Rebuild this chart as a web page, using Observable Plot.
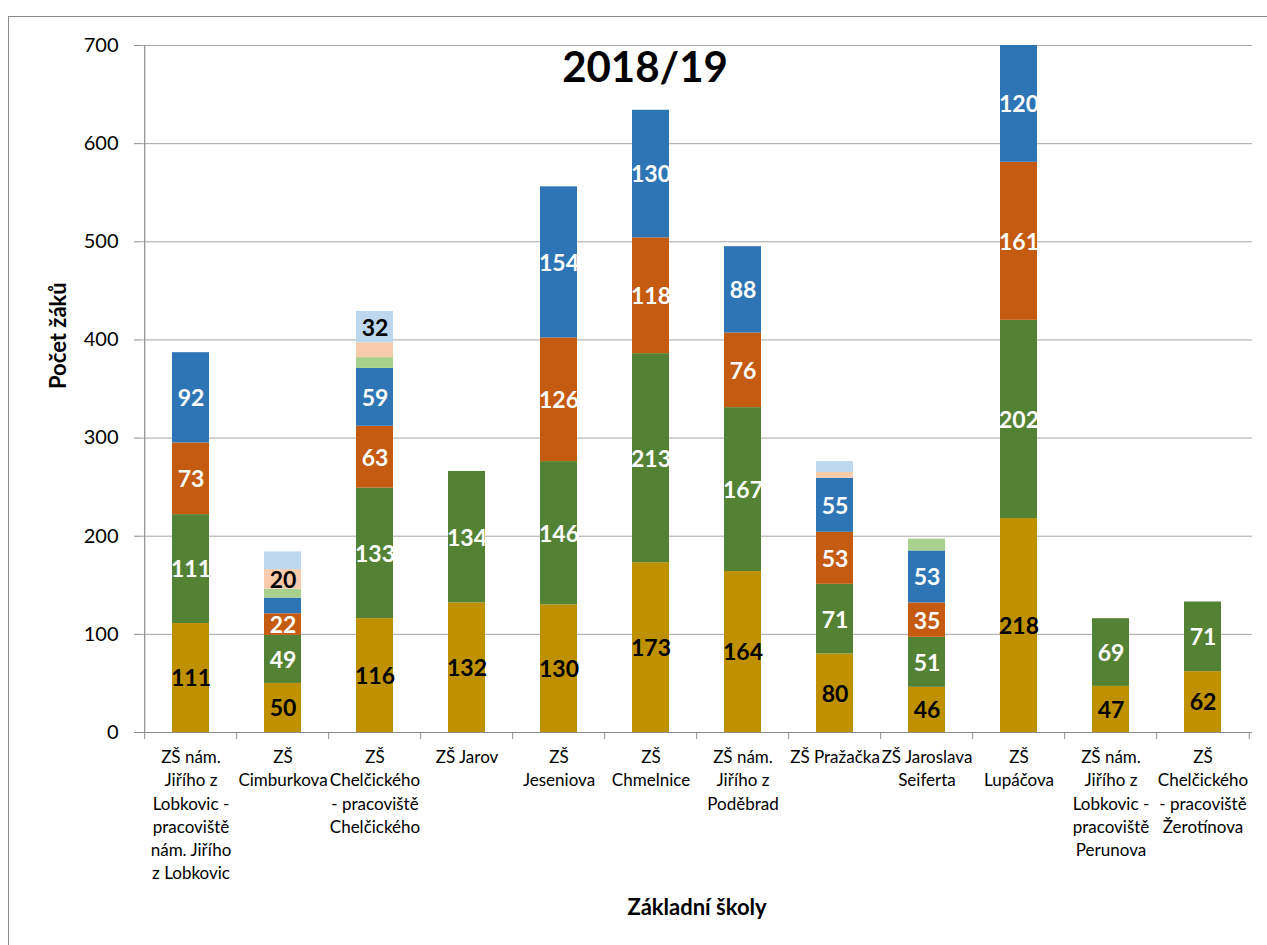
<!DOCTYPE html>
<html>
<head>
<meta charset="utf-8">
<script src="https://cdn.jsdelivr.net/npm/d3@7"></script>
<script src="https://cdn.jsdelivr.net/npm/@observablehq/plot@0.6"></script>
<style>
  html, body { margin: 0; padding: 0; background: #fff; overflow: hidden; }
  #frame { position: absolute; left: 8px; top: 16px; width: 1300px; height: 1000px; border: 1px solid #8c8c8c; box-sizing: border-box; }
  #chart { position: absolute; left: 0; top: 0; }
</style>
</head>
<body>
<div id="frame"></div>
<div id="chart"></div>
<script>
// ---- data ----
const schools = [
  "ZŠ nám. Jiřího z Lobkovic - pracoviště nám. Jiřího z Lobkovic",
  "ZŠ Cimburkova",
  "ZŠ Chelčického - pracoviště Chelčického",
  "ZŠ Jarov",
  "ZŠ Jeseniova",
  "ZŠ Chmelnice",
  "ZŠ nám. Jiřího z Poděbrad",
  "ZŠ Pražačka",
  "ZŠ Jaroslava Seiferta",
  "ZŠ Lupáčova",
  "ZŠ nám. Jiřího z Lobkovic - pracoviště Perunova",
  "ZŠ Chelčického - pracoviště Žerotínova"
];
const tickLabels = [
  "ZŠ nám.\nJiřího z\nLobkovic -\npracoviště\nnám. Jiřího\nz Lobkovic",
  "ZŠ\nCimburkova",
  "ZŠ\nChelčického\n- pracoviště\nChelčického",
  "ZŠ Jarov",
  "ZŠ\nJeseniova",
  "ZŠ\nChmelnice",
  "ZŠ nám.\nJiřího z\nPoděbrad",
  "ZŠ Pražačka",
  "ZŠ Jaroslava\nSeiferta",
  "ZŠ\nLupáčova",
  "ZŠ nám.\nJiřího z\nLobkovic -\npracoviště\nPerunova",
  "ZŠ\nChelčického\n- pracoviště\nŽerotínova"
];
const seriesNames = ["Řada 1", "Řada 2", "Řada 3", "Řada 4", "Řada 5", "Řada 6", "Řada 7"];
const seriesColors = ["#BF9000", "#548235", "#C55A11", "#2E75B6", "#A9D18E", "#F8CBAD", "#BDD7EE"];
const labelColors = ["#000000", "#ffffff", "#ffffff", "#ffffff", "#000000", "#000000", "#000000"];
const s1 = [111, 50, 116, 132, 130, 173, 164, 80, 46, 218, 47, 62];
const s2 = [111, 49, 133, 134, 146, 213, 167, 71, 51, 202, 69, 71];
const s3 = [73, 22, 63, 0, 126, 118, 76, 53, 35, 161, 0, 0];
const s4 = [92, 16, 59, 0, 154, 130, 88, 55, 53, 120, 0, 0];
const s5 = [0, 9, 11, 0, 0, 0, 0, 0, 12, 0, 0, 0];
const s6 = [0, 20, 15, 0, 0, 0, 0, 6, 0, 0, 0, 0];
const s7 = [0, 18, 32, 0, 0, 0, 0, 11, 0, 0, 0, 0];
const yTicks = [0, 100, 200, 300, 400, 500, 600, 700];
const title = "2018/19";
const xTitle = "Základní školy";
const yTitle = "Počet žáků";
const labelMin = 20;

const seriesValues = [s1, s2, s3, s4, s5, s6, s7];
const rows = [];
seriesValues.forEach((vals, si) => {
  vals.forEach((v, i) => {
    if (v > 0) rows.push({school: schools[i], series: seriesNames[si], value: v, si});
  });
});

const W = 1267, H = 945, ML = 141, MR = 15, MT = 45, MB = 213;
const step = (W - ML - MR) / schools.length;
const font = "Lato, 'Open Sans', sans-serif";
const grid = "#a6a6a6";
const axisCol = "#8c8c8c";

const chart = Plot.plot({
  width: W,
  height: H,
  marginLeft: ML,
  marginRight: MR,
  marginTop: MT,
  marginBottom: MB,
  style: {fontFamily: font, background: "transparent", color: "#000", overflow: "visible"},
  x: {type: "band", domain: schools, paddingInner: 0.6, paddingOuter: 0.3, label: null},
  y: {domain: [0, 700], label: null},
  color: {domain: seriesNames, range: seriesColors},
  marks: [
    Plot.gridY(yTicks.slice(1), {stroke: grid, strokeOpacity: 1, strokeWidth: 1}),
    Plot.barY(rows, Plot.stackY({
      x: "school", y: "value", fill: "series", order: seriesNames, clip: true
    })),
    Plot.text(rows, Plot.stackY({
      x: "school", y: "value", order: seriesNames,
      text: d => (d.value >= labelMin ? String(d.value) : ""),
      fill: d => labelColors[d.si],
      fontSize: 23, fontWeight: "bold", lineAnchor: "middle", dy: 1
    })),
    Plot.ruleY([0], {stroke: axisCol, strokeWidth: 1.2}),
    Plot.ruleX([schools[0]], {dx: -step / 2, stroke: axisCol, strokeWidth: 1.2}),
    Plot.axisY(yTicks, {
      tickSize: 7, tickPadding: 16, fontSize: 20, stroke: axisCol, label: null,
      tickFormat: d => String(d)
    }),
    Plot.axisX({
      tickSize: 0, tickPadding: 14, fontSize: 17, lineHeight: 1.37, label: null,
      tickFormat: (d) => tickLabels[schools.indexOf(d)]
    }),
    Plot.axisX(schools, {
      tickSize: 7, stroke: axisCol, dx: -step / 2, label: null, tickFormat: () => ""
    }),
    Plot.axisX([schools[schools.length - 1]], {
      tickSize: 7, stroke: axisCol, dx: step / 2, label: null, tickFormat: () => ""
    }),
    Plot.text([title], {frameAnchor: "top", dx: -52, dy: 23, fontSize: 42, fontWeight: "bold", lineAnchor: "middle"}),
    Plot.text([xTitle], {frameAnchor: "bottom", dy: 175, fontSize: 22, fontWeight: "bold", lineAnchor: "middle"}),
    Plot.text([yTitle], {frameAnchor: "left", dx: -83, rotate: -90, fontSize: 22, fontWeight: "bold", lineAnchor: "middle"})
  ]
});
document.getElementById("chart").appendChild(chart);
</script>
</body>
</html>
